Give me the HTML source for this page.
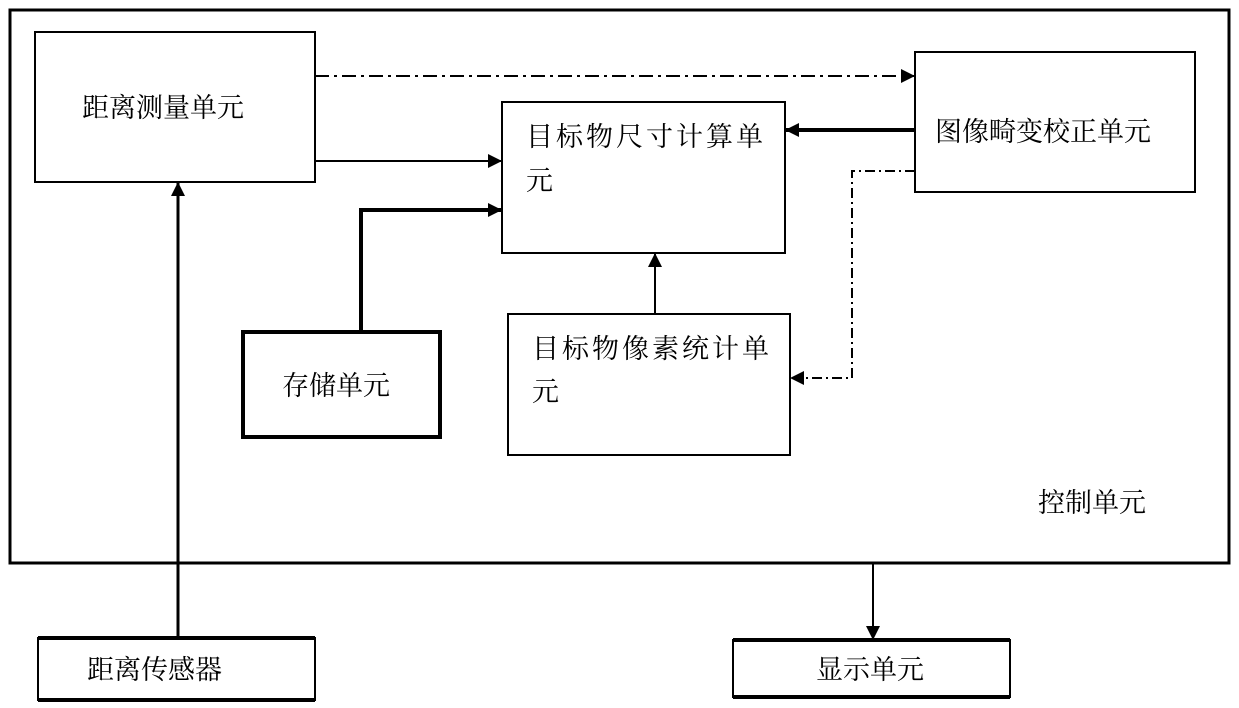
<!DOCTYPE html>
<html><head><meta charset="utf-8"><style>
html,body{margin:0;padding:0;background:#fff;}
svg{display:block;}
text{font-family:"Liberation Serif","Noto Serif CJK SC","Noto Sans CJK SC",serif;font-size:27px;fill:#000;}
</style></head><body>
<svg width="1239" height="708" viewBox="0 0 1239 708" xmlns="http://www.w3.org/2000/svg">
<defs>
<marker id="b" markerWidth="14" markerHeight="14" refX="13" refY="7" orient="auto" markerUnits="userSpaceOnUse">
<path d="M0,0 L14,7 L0,14 z" fill="#000"/></marker>
</defs>
<g fill="none" stroke="#000">
<rect x="10" y="10" width="1219" height="553" stroke-width="3"/>
<rect x="35" y="32" width="280" height="150" stroke-width="2"/>
<rect x="502" y="102" width="283" height="151" stroke-width="2"/>
<rect x="243" y="332" width="197" height="105" stroke-width="4"/>
<rect x="508" y="314" width="282" height="141" stroke-width="2"/>
<rect x="915" y="52" width="280" height="140" stroke-width="2"/>
<rect x="38" y="638" width="277" height="62" stroke-width="2"/>
<line x1="38" y1="638" x2="315" y2="638" stroke-width="4"/>
<line x1="38" y1="700" x2="315" y2="700" stroke-width="4"/>
<rect x="733" y="640" width="277" height="57" stroke-width="2"/>
<line x1="733" y1="640" x2="1010" y2="640" stroke-width="4"/>
<line x1="733" y1="697" x2="1010" y2="697" stroke-width="4"/>
<line x1="315" y1="76" x2="914" y2="76" stroke-width="2" stroke-dasharray="14,5,3,5" marker-end="url(#b)"/>
<line x1="315" y1="161" x2="501" y2="161" stroke-width="2" marker-end="url(#b)"/>
<polyline points="361,331 361,210 501,210" stroke-width="4" marker-end="url(#b)"/>
<line x1="655" y1="314" x2="655" y2="254" stroke-width="2" marker-end="url(#b)"/>
<line x1="915" y1="130" x2="786" y2="130" stroke-width="4" marker-end="url(#b)"/>
<polyline points="915,171 852,171 852,378 791,378" stroke-width="2" stroke-dasharray="10,4,2,4" marker-end="url(#b)"/>
<line x1="178" y1="637" x2="178" y2="183" stroke-width="3" marker-end="url(#b)"/>
<line x1="873" y1="563" x2="873" y2="639" stroke-width="2" marker-end="url(#b)"/>
</g>
<text x="82" y="117">距离测量单元</text>
<text x="526" y="146" letter-spacing="3">目标物尺寸计算单</text>
<text x="526" y="190">元</text>
<text x="282" y="395">存储单元</text>
<text x="532" y="358" letter-spacing="3">目标物像素统计单</text>
<text x="532" y="401">元</text>
<text x="935" y="141">图像畸变校正单元</text>
<text x="1038" y="512">控制单元</text>
<text x="87" y="679">距离传感器</text>
<text x="816" y="679">显示单元</text>
</svg>
</body></html>
